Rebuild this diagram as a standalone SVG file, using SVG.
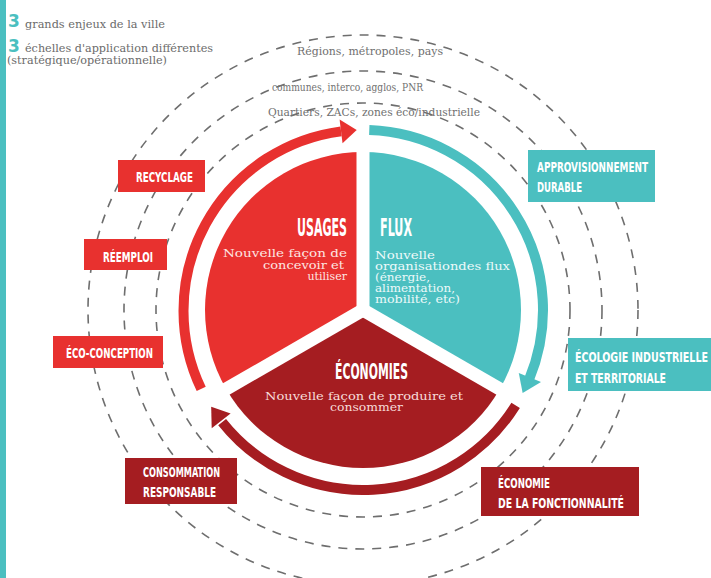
<svg xmlns="http://www.w3.org/2000/svg" width="711" height="578" viewBox="0 0 711 578">
  <style>
    .scale { fill: none; stroke: #6e6e6e; stroke-width: 1.6; stroke-dasharray: 9 8; }
    .note { font-family: "DejaVu Serif", "Liberation Serif", serif; fill: #6b6b6b; }
    .big3 { font-family: "DejaVu Sans", "Liberation Sans", sans-serif; font-weight: bold; fill: #4bbfc0; font-size: 17px; }
    .ringlbl { font-family: "DejaVu Serif", "Liberation Serif", serif; font-size: 10.5px; fill: #707070; }
    .title { font-family: "DejaVu Sans Condensed", "Liberation Sans Narrow", "Liberation Sans", sans-serif; font-weight: bold; fill: #ffffff; }
    .body { font-family: "DejaVu Serif", "Liberation Serif", serif; font-size: 11px; }
    .tag { font-family: "DejaVu Sans Condensed", "Liberation Sans Narrow", "Liberation Sans", sans-serif; font-weight: bold; font-size: 14px; fill: #ffffff; }
    .red { fill: #e8312f; }
    .teal { fill: #4bbfc0; }
    .dark { fill: #a51d21; }
    .gap { stroke: #ffffff; stroke-width: 13; }
    .arc { fill: none; stroke-width: 10; }
  </style>

  <rect width="711" height="578" fill="#ffffff"/>
  <!-- side bar -->
  <rect x="0" y="0" width="6" height="578" fill="#4bbfc0"/>

  <!-- legend -->
  <g id="legend">
    <text class="big3" x="8" y="27">3</text>
    <text class="note" x="25" y="28" font-size="10.5" textLength="140" lengthAdjust="spacingAndGlyphs">grands enjeux de la ville</text>
    <text class="big3" x="8" y="52">3</text>
    <text class="note" x="25" y="52" font-size="10.5" textLength="188" lengthAdjust="spacingAndGlyphs">échelles d'application différentes</text>
    <text class="note" x="7" y="64" font-size="10.5" textLength="160" lengthAdjust="spacingAndGlyphs">(stratégique/opérationnelle)</text>
  </g>

  <!-- dashed scale rings -->
  <g id="scales">
    <circle class="scale" cx="363" cy="310" r="207"/>
    <circle class="scale" cx="363" cy="310" r="239"/>
    <circle class="scale" cx="363" cy="310" r="275"/>
    <text class="ringlbl" x="297" y="55" textLength="146" lengthAdjust="spacingAndGlyphs">Régions, métropoles, pays</text>
    <text class="ringlbl" x="272" y="91" textLength="151" lengthAdjust="spacingAndGlyphs">communes, interco, agglos, PNR</text>
    <text class="ringlbl" x="268" y="116" textLength="212" lengthAdjust="spacingAndGlyphs">Quartiers, ZACs, zones éco/industrielle</text>
  </g>

  <!-- cycle arrows around the disc -->
  <g id="connectors">
    <path class="arc" stroke="#e8312f" d="M201.22,388.91 A181,181 0 0 1 341.06,131.34"/>
    <polygon class="red" points="339.60,119.43 356.72,130.11 342.53,143.25"/>
    <path class="arc" stroke="#4bbfc0" d="M369.28,130.11 A180,180 0 0 1 529.30,378.88"/>
    <polygon class="teal" points="541.02,381.92 522.66,393.12 518.77,372.93"/>
    <path class="arc" stroke="#a51d21" d="M515.64,405.38 A180,180 0 0 1 222.13,422.05"/>
    <polygon class="dark" points="211.70,428.21 211.19,406.71 230.61,413.43"/>
  </g>

  <!-- disc sectors -->
  <g id="usages">
    <path class="red" d="M363,310 L363,152 A158,158 0 0 0 226.17,389 Z"/>
    <text class="title" x="297" y="236" font-size="25" textLength="50" lengthAdjust="spacingAndGlyphs">USAGES</text>
    <g class="body" fill="#fde6e2">
      <text x="223" y="257" textLength="124" lengthAdjust="spacingAndGlyphs">Nouvelle façon de</text>
      <text x="263" y="269" textLength="81" lengthAdjust="spacingAndGlyphs">concevoir et</text>
      <text x="347" y="280" text-anchor="end">utiliser</text>
    </g>
  </g>

  <g id="flux">
    <path class="teal" d="M363,310 L363,152 A158,158 0 0 1 499.83,389 Z"/>
    <text class="title" x="380" y="236" font-size="25" textLength="32" lengthAdjust="spacingAndGlyphs">FLUX</text>
    <g class="body" fill="#eefafa">
      <text x="375" y="259" textLength="60" lengthAdjust="spacingAndGlyphs">Nouvelle</text>
      <text x="375" y="270" textLength="135" lengthAdjust="spacingAndGlyphs">organisationdes flux</text>
      <text x="375" y="281" textLength="55" lengthAdjust="spacingAndGlyphs">(énergie,</text>
      <text x="375" y="292" textLength="80" lengthAdjust="spacingAndGlyphs">alimentation,</text>
      <text x="375" y="303" textLength="85" lengthAdjust="spacingAndGlyphs">mobilité, etc)</text>
    </g>
  </g>

  <g id="economies">
    <path class="dark" d="M363,310 L499.83,389 A158,158 0 0 1 226.17,389 Z"/>
    <text class="title" x="335" y="379" font-size="21" textLength="73" lengthAdjust="spacingAndGlyphs">ÉCONOMIES</text>
    <g class="body" fill="#f7dcda">
      <text x="265" y="400" textLength="198" lengthAdjust="spacingAndGlyphs">Nouvelle façon de produire et</text>
      <text x="330" y="411" textLength="73" lengthAdjust="spacingAndGlyphs">consommer</text>
    </g>
  </g>

  <!-- white separations between sectors -->
  <g id="separators">
    <line class="gap" x1="363" y1="310" x2="363" y2="140"/>
    <line class="gap" x1="363" y1="310" x2="215.78" y2="395"/>
    <line class="gap" x1="363" y1="310" x2="510.22" y2="395"/>
  </g>

  <!-- outer tags -->
  <g id="recyclage">
    <rect class="red" x="118" y="160" width="87" height="32"/>
    <text class="tag" x="136" y="182" textLength="57" lengthAdjust="spacingAndGlyphs">RECYCLAGE</text>
  </g>
  <g id="reemploi">
    <rect class="red" x="84" y="239" width="83" height="31"/>
    <text class="tag" x="103" y="262" textLength="50" lengthAdjust="spacingAndGlyphs">RÉEMPLOI</text>
  </g>
  <g id="eco-conception">
    <rect class="red" x="53" y="336" width="110" height="32"/>
    <text class="tag" x="66" y="358" textLength="87" lengthAdjust="spacingAndGlyphs">ÉCO-CONCEPTION</text>
  </g>
  <g id="consommation">
    <rect class="dark" x="125" y="458" width="112" height="46"/>
    <text class="tag" x="143" y="477" textLength="77" lengthAdjust="spacingAndGlyphs">CONSOMMATION</text>
    <text class="tag" x="143" y="497" textLength="73" lengthAdjust="spacingAndGlyphs">RESPONSABLE</text>
  </g>
  <g id="fonctionnalite">
    <rect class="dark" x="481" y="467" width="158" height="49"/>
    <text class="tag" x="498" y="488" textLength="52" lengthAdjust="spacingAndGlyphs">ÉCONOMIE</text>
    <text class="tag" x="498" y="508" textLength="126" lengthAdjust="spacingAndGlyphs">DE LA FONCTIONNALITÉ</text>
  </g>
  <g id="approvisionnement">
    <rect class="teal" x="528" y="150" width="127" height="52"/>
    <text class="tag" x="537" y="172" textLength="111" lengthAdjust="spacingAndGlyphs">APPROVISIONNEMENT</text>
    <text class="tag" x="537" y="192" textLength="45" lengthAdjust="spacingAndGlyphs">DURABLE</text>
  </g>
  <g id="ecologie">
    <rect class="teal" x="568" y="338" width="143" height="53"/>
    <text class="tag" x="575" y="362" textLength="133" lengthAdjust="spacingAndGlyphs">ÉCOLOGIE INDUSTRIELLE</text>
    <text class="tag" x="575" y="383" textLength="91" lengthAdjust="spacingAndGlyphs">ET TERRITORIALE</text>
  </g>
</svg>
